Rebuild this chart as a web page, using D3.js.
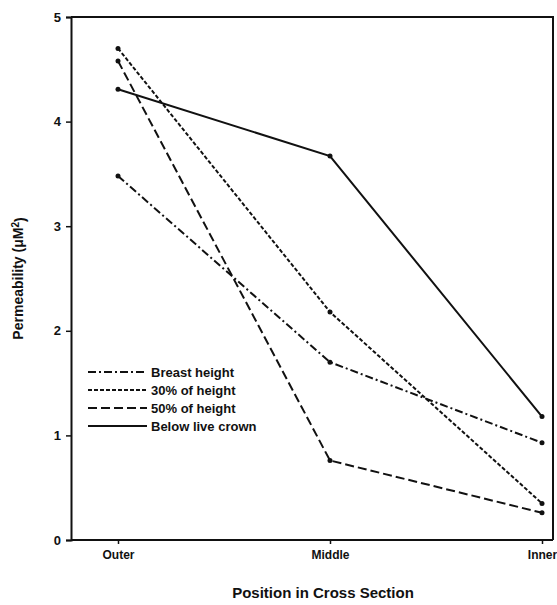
<!DOCTYPE html>
<html>
<head>
<meta charset="utf-8">
<script src="https://cdn.jsdelivr.net/npm/d3@7"></script>
<style>
	body { margin: 0; background: #fff; }
	text { font-family: "Liberation Sans", Arial, sans-serif; fill: #111; }
</style>
</head>
<body>
<div id="chart"></div>
<script>
(function(){
	var positions = ['Outer', 'Middle', 'Inner'];
	var seriesNames = ['Breast height', '30% of height', '50% of height', 'Below live crown'];
	var breastHeight = [3.48, 1.70, 0.93];
	var thirtyPct = [4.70, 2.18, 0.35];
	var fiftyPct = [4.58, 0.76, 0.26];
	var belowCrown = [4.31, 3.67, 1.18];
	var yTicks = [0, 1, 2, 3, 4, 5];

	var dashes = ['8,3,2,3', '4,2', '9,4', null];
	var series = [breastHeight, thirtyPct, fiftyPct, belowCrown];

	var width = 557, height = 605;
	var left = 71, right = 553, top = 17, bottom = 540;

	var svg = d3.select('#chart')
		.append('svg')
			.attr('width', width)
			.attr('height', height);

	var x = d3.scalePoint().domain(positions).range([118, 542]);
	var y = d3.scaleLinear().domain([0, 5]).range([bottom, top]);

	// frame
	svg.append('path')
		.attr('d', 'M' + left + ',' + top + 'H' + right + 'V' + bottom)
		.attr('fill', 'none')
		.attr('stroke', '#111')
		.attr('stroke-width', 2);

	var yAxis = svg.append('g')
		.attr('transform', 'translate(' + left + ',0)')
		.call(d3.axisLeft(y).tickValues(yTicks).tickSize(5).tickPadding(5).tickFormat(d3.format('d')));
	yAxis.select('.domain').attr('stroke', '#111').attr('stroke-width', 2);
	yAxis.selectAll('.tick line').attr('stroke', '#111').attr('stroke-width', 1.5);
	yAxis.selectAll('text').style('font-size', '13px').style('font-weight', 'bold').attr('fill', '#111');

	var xAxis = svg.append('g')
		.attr('transform', 'translate(0,' + bottom + ')')
		.call(d3.axisBottom(x).tickSize(4).tickPadding(6).tickSizeOuter(0));
	xAxis.select('.domain').attr('d', 'M' + left + ',0H' + right).attr('stroke', '#111').attr('stroke-width', 2);
	xAxis.selectAll('.tick line').attr('stroke', '#111').attr('stroke-width', 1.5);
	xAxis.selectAll('text').style('font-size', '12px').style('font-weight', 'bold').attr('fill', '#111');

	var line = d3.line()
		.x(function(d, i) { return x(positions[i]); })
		.y(function(d) { return y(d); });

	series.forEach(function(vals, s) {
		svg.append('path')
			.datum(vals)
			.attr('d', line)
			.attr('fill', 'none')
			.attr('stroke', '#111')
			.attr('stroke-width', 2)
			.attr('stroke-dasharray', dashes[s]);
		svg.selectAll('.pt' + s)
			.data(vals)
			.enter().append('circle')
				.attr('cx', function(d, i) { return x(positions[i]); })
				.attr('cy', function(d) { return y(d); })
				.attr('r', 2.5)
				.attr('fill', '#111');
	});

	// legend
	var legend = svg.append('g').attr('transform', 'translate(88,372)');
	seriesNames.forEach(function(name, i) {
		var g = legend.append('g').attr('transform', 'translate(0,' + (i * 18) + ')');
		g.append('line')
			.attr('x1', 0).attr('x2', 59)
			.attr('stroke', '#111')
			.attr('stroke-width', 2)
			.attr('stroke-dasharray', dashes[i]);
		g.append('text')
			.attr('x', 63).attr('dy', '0.35em')
			.style('font-size', '13px')
			.style('font-weight', 'bold')
			.text(name);
	});

	svg.append('text')
		.attr('x', 323).attr('y', 598)
		.attr('text-anchor', 'middle')
		.style('font-size', '15px')
		.style('font-weight', 'bold')
		.text('Position in Cross Section');

	var yl = svg.append('text')
		.attr('transform', 'translate(23,' + ((top + bottom) / 2) + ') rotate(-90)')
		.attr('text-anchor', 'middle')
		.style('font-size', '14px')
		.style('font-weight', 'bold');
	yl.append('tspan').text('Permeability (\u03bcM');
	yl.append('tspan').attr('dy', '-0.4em').style('font-size', '10px').text('2');
	yl.append('tspan').attr('dy', '0.4em').text(')');
})();
</script>
</body>
</html>
